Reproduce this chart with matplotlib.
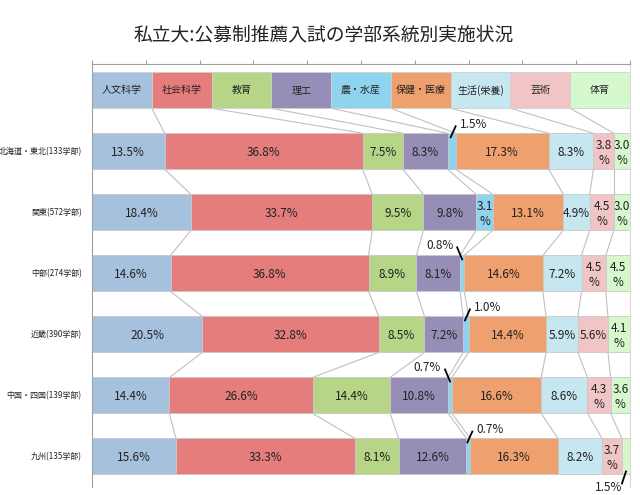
import matplotlib
matplotlib.use("Agg")
import matplotlib.pyplot as plt
import numpy as np

plt.rcParams['font.family'] = ['Noto Sans CJK JP', 'DejaVu Sans']

title = "私立大:公募制推薦入試の学部系統別実施状況"
categories = ["人文科学", "社会科学", "教育", "理工", "農・水産", "保健・医療", "生活(栄養)", "芸術", "体育"]
regions = ["北海道・東北(133学部)", "関東(572学部)", "中部(274学部)",
           "近畿(390学部)", "中国・四国(139学部)", "九州(135学部)"]
hokkaido = [13.5, 36.8, 7.5, 8.3, 1.5, 17.3, 8.3, 3.8, 3.0]
kanto = [18.4, 33.7, 9.5, 9.8, 3.1, 13.1, 4.9, 4.5, 3.0]
chubu = [14.6, 36.8, 8.9, 8.1, 0.8, 14.6, 7.2, 4.5, 4.5]
kinki = [20.5, 32.8, 8.5, 7.2, 1.0, 14.4, 5.9, 5.6, 4.1]
chugoku = [14.4, 26.6, 14.4, 10.8, 0.7, 16.6, 8.6, 4.3, 3.6]
kyushu = [15.6, 33.3, 8.1, 12.6, 0.7, 16.3, 8.2, 3.7, 1.5]
values = [hokkaido, kanto, chubu, kinki, chugoku, kyushu]

colors = ['#a6c1de', '#e57d7d', '#b6d586', '#978eb7', '#8fd3ef',
          '#efa06f', '#c6e6f0', '#f1c5c5', '#d5f8cd']

# small slices labelled outside the bar: (row, category, side)
outside = [(0, 4, 'ur'), (2, 4, 'ul'), (3, 4, 'ur'), (4, 4, 'ul'), (5, 4, 'ur'), (5, 8, 'dl')]

fig = plt.figure(figsize=(6.4, 4.95), dpi=100)
ax = fig.add_axes([92 / 640, 1 - 487 / 495, 538 / 640, (487 - 64) / 495])

h = 0.59
PX = 100 / 538  # data units per pixel along x
PY = 1 / 61     # data units per pixel along y

# header row with category names
n = len(categories)
head_w = [100 / n] * n
head_left = np.concatenate([[0], np.cumsum(head_w)[:-1]])
ax.barh(0, head_w, left=head_left, height=h, color=colors, edgecolor='#d0d0d0', linewidth=0.6)
for i, c in enumerate(categories):
    ax.text(head_left[i] + head_w[i] / 2, 0, c, ha='center', va='center', fontsize=7.2,
            color='#222222')

rows = [head_w] + values
for r, vals in enumerate(values, start=1):
    left = np.concatenate([[0], np.cumsum(vals)[:-1]])
    ax.barh(r, vals, left=left, height=h, color=colors, edgecolor='#c8c8c8', linewidth=0.6)
    ax.text(-1.9, r, regions[r - 1], ha='right', va='center', fontsize=5.8, color='#222222')
    for i, v in enumerate(vals):
        if v < 2:
            continue
        s = f"{v:.1f}%" if v >= 4.8 else f"{v:.1f}\n%"
        ax.text(left[i] + v / 2, r + 0.02, s, ha='center', va='center', fontsize=8.5,
                color='#222222', linespacing=1.2)

# connector lines between segment boundaries
for r in range(len(rows) - 1):
    up = np.cumsum(rows[r])[:-1]
    lo = np.cumsum(rows[r + 1])[:-1]
    for a, b in zip(up, lo):
        ax.plot([a, b], [r + h / 2, r + 1 - h / 2], color='#c0c0c0', lw=0.8, zorder=0)

for r, i, side in outside:
    vals = values[r]
    cx = sum(vals[:i]) + vals[i] / 2
    y = r + 1
    v = f"{vals[i]:.1f}%"
    top = y - h / 2
    bot = y + h / 2
    if side == 'ur':
        ax.plot([cx - 1 * PX, cx + 4 * PX], [top + 4 * PY, top - 7 * PY], color='k', lw=1.3)
        ax.text(cx + 8 * PX, top - 9 * PY, v, ha='left', va='center', fontsize=8.5, color='#222222')
    elif side == 'ul':
        ax.plot([cx, cx - 5 * PX], [top + 4 * PY, top - 8 * PY], color='k', lw=1.3)
        ax.text(cx - 9 * PX, top - 10 * PY, v, ha='right', va='center', fontsize=8.5, color='#222222')
    else:
        ax.plot([cx, cx - 4 * PX], [bot - 3 * PY, bot + 9 * PY], color='k', lw=1.3)
        ax.text(cx - 4 * PX, bot + 13 * PY, v, ha='right', va='center', fontsize=8.5, color='#222222')

ax.set_xlim(0, 100)
ax.set_ylim(6.5, -0.43)
ax.set_yticks([])
ax.xaxis.tick_top()
ax.set_xticks(np.arange(0, 101, 10))
ax.tick_params(axis='x', direction='out', length=3, color='#a0a0a0', labeltop=False, labelbottom=False)
ax.spines['bottom'].set_visible(False)
ax.spines['top'].set_color('#a0a0a0')
ax.spines['left'].set_color('#a0a0a0')
ax.spines['right'].set_color('#d9d9d9')
for s in ax.spines.values():
    s.set_linewidth(0.8)

fig.text(324 / 640, 1 - 35 / 495, title, ha='center', va='center', fontsize=13.5, color='#222222')

fig.savefig("out.png", dpi=100)
